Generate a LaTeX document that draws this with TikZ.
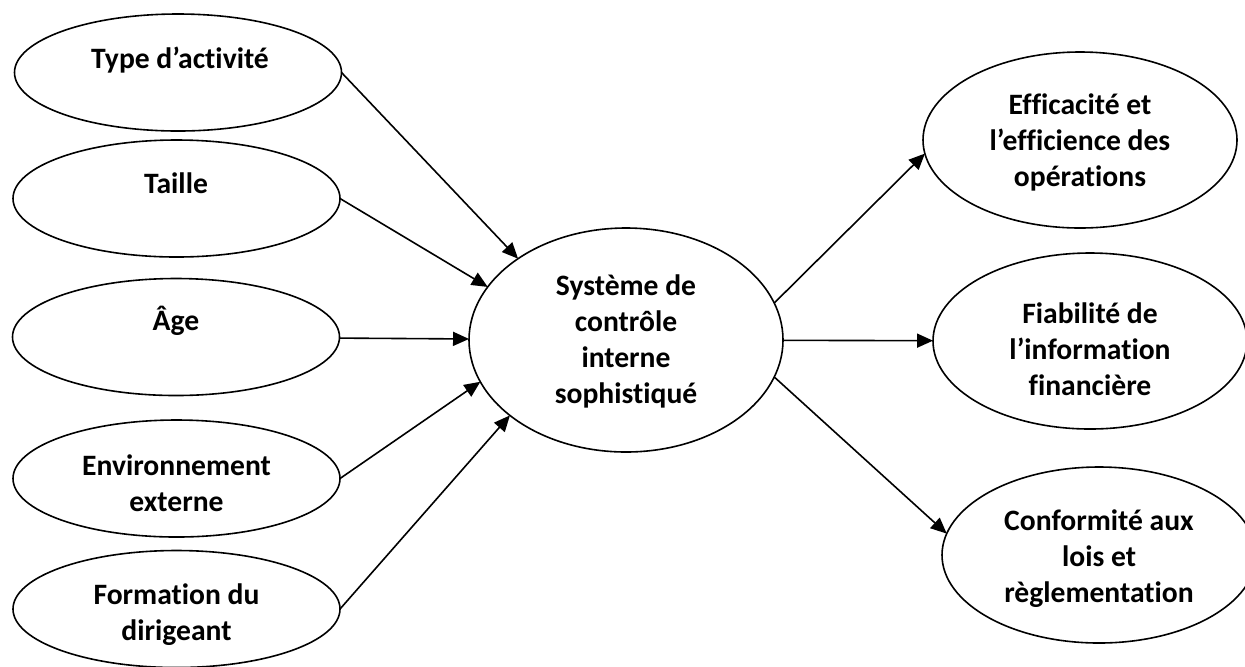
\documentclass[tikz,border=0pt]{standalone}
\usepackage{fontspec}
\setmainfont{Carlito}[Ligatures=NoCommon]
\usetikzlibrary{shapes.geometric,arrows.meta}
\begin{document}
\begin{tikzpicture}[x=0.5pt,y=-0.5pt,
  oval/.style={draw, ellipse, line width=0.8pt, inner sep=0pt, outer sep=0pt},
  lft/.style={oval, minimum width=163.5pt, minimum height=58.5pt},
  rgt/.style={oval, minimum width=157pt, minimum height=88pt},
  lbl/.style={align=center, font=\bfseries\fontsize{14.8}{18}\selectfont, inner sep=0pt},
  arr/.style={-{Triangle[length=8pt,width=7pt]}, line width=0.8pt}]
\useasboundingbox (0,0) rectangle (1245,666);
% ellipses
\node[lft] (type) at (178,72.5) {};
\node[lft] (taille) at (176.5,198.5) {};
\node[lft] (age) at (176,337) {};
\node[lft] (env) at (176.5,478.5) {};
\node[lft] (form) at (176.5,609) {};
\node[oval, minimum width=157pt, minimum height=112pt] (ctr) at (626,340) {};
\node[rgt] (eff) at (1080,140) {};
\node[rgt] (fia) at (1090,341) {};
\node[rgt] (conf) at (1099,555) {};
% texts
\node[lbl] (type-t) at (180,60) {Type d’activité};
\node[lbl] (taille-t) at (176,183) {Taille};
\node[lbl] (age-t) at (176,321) {Âge};
\node[lbl] (env-t) at (176.5,483) {Environnement\\externe};
\node[lbl] (form-t) at (176.5,615) {Formation du\\dirigeant};
\node[lbl] (ctr-t) at (626,341) {Système de\\contrôle\\interne\\sophistiqué};
\node[lbl] (eff-t) at (1080,142) {Efficacité et\\l’efficience des\\opérations};
\node[lbl] (fia-t) at (1090,349) {Fiabilité de\\l’information\\financière};
\node[lbl] (conf-t) at (1099,559) {Conformité aux\\lois et\\règlementation};
% connectors
\draw[arr] (type.east) -- (ctr.143.5);
\draw[arr] (taille.east) -- (ctr.159.5);
\draw[arr] (age) -- (ctr);
\draw[arr] (env.east) -- (ctr.196.4);
\draw[arr] (form.east) -- (ctr.213.3);
\draw[arr] (ctr.14) -- (eff.185);
\draw[arr] (ctr) -- (fia);
\draw[arr] (ctr.346) -- (conf.172.6);
\end{tikzpicture}
\end{document}
